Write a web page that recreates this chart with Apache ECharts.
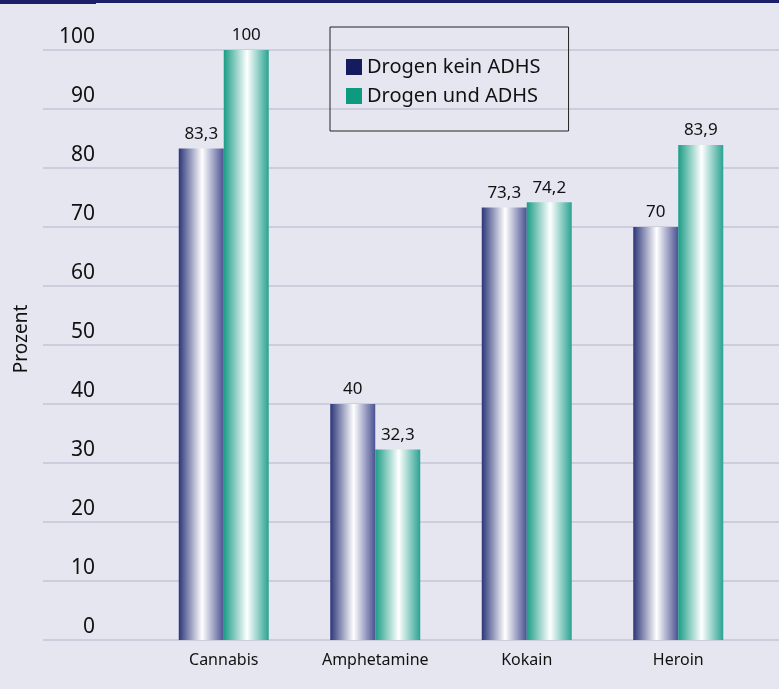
<!DOCTYPE html>
<html><head><meta charset="utf-8">
<script src="https://cdn.jsdelivr.net/npm/echarts@6/dist/echarts.min.js"></script>
<style>html,body{margin:0;padding:0;background:#e6e6f0;}#c{width:779px;height:689px;}</style>
</head><body><div id="c"></div>
<script>
var categories = ['Cannabis', 'Amphetamine', 'Kokain', 'Heroin'];
var seriesNames = ['Drogen kein ADHS', 'Drogen und ADHS'];
var keinAdhs = [83.3, 40, 73.3, 70];
var undAdhs = [100, 32.3, 74.2, 83.9];
var yTicks = [0, 10, 20, 30, 40, 50, 60, 70, 80, 90, 100];

var FONT = 'Noto Sans';
function grad(c1, c2) {
  return new echarts.graphic.LinearGradient(0, 0, 1, 0, [
    {offset: 0, color: c1}, {offset: 0.52, color: '#ffffff'}, {offset: 1, color: c2}
  ]);
}
var navyGrad = grad('#2c3678', '#4a5191');
var tealGrad = grad('#1b9c86', '#2ba392');
var fmt = function (p) { return String(p.value).replace('.', ','); };

var chart = echarts.init(document.getElementById('c'));
chart.setOption({
  backgroundColor: '#e6e6f0',
  animation: false,
  textStyle: {fontFamily: FONT},
  graphic: [
    {type: 'rect', shape: {x: 0, y: 0, width: 779, height: 3}, style: {fill: '#1b1f6a'}},
    {type: 'rect', shape: {x: 0, y: 0, width: 96, height: 4}, style: {fill: '#1b1f6a'}},
    {type: 'text', x: 22, y: 339, rotation: Math.PI / 2,
     style: {text: 'Prozent', font: '19px "Noto Sans"', fill: '#111', textAlign: 'center', textVerticalAlign: 'middle'}}
  ],
  legend: {
    data: [
      {name: seriesNames[0], itemStyle: {color: '#161a5e'}},
      {name: seriesNames[1], itemStyle: {color: '#0e9a80'}}
    ],
    orient: 'vertical',
    left: 330, top: 27,
    padding: [30, 28, 25, 16],
    itemWidth: 16, itemHeight: 16, itemGap: 9,
    icon: 'rect',
    borderColor: '#222', borderWidth: 1,
    textStyle: {fontSize: 20, color: '#111', fontFamily: FONT, padding: [0, 0, 0, 0]}
  },
  grid: [
    {left: 43, right: 0, top: 50, bottom: 49},
    {left: 148, width: 606, top: 50, bottom: 49}
  ],
  xAxis: [
    {type: 'category', gridIndex: 0, show: false, data: categories},
    {type: 'category', gridIndex: 1, data: categories,
     axisLine: {show: false}, axisTick: {show: false},
     axisLabel: {fontSize: 16, color: '#111', margin: 12, fontFamily: FONT}}
  ],
  yAxis: [
    {type: 'value', gridIndex: 0, min: 0, max: 100, interval: 10,
     axisLine: {show: false}, axisTick: {show: false},
     splitLine: {lineStyle: {color: '#c4c4d8', width: 1.5}},
     axisLabel: {inside: true, align: 'right', margin: 52, verticalAlign: 'bottom',
       padding: [0, 0, 2, 0], fontSize: 21, color: '#111', fontFamily: FONT,
       formatter: function (v) { return yTicks.indexOf(v) >= 0 ? String(v) : ''; }}},
    {type: 'value', gridIndex: 1, min: 0, max: 100, interval: 10, show: false}
  ],
  series: [
    {name: seriesNames[0], type: 'bar', xAxisIndex: 1, yAxisIndex: 1, data: keinAdhs,
     barWidth: 45, barGap: '0%', itemStyle: {color: navyGrad},
     label: {show: true, position: 'top', fontSize: 17, color: '#111', distance: 6, formatter: fmt}},
    {name: seriesNames[1], type: 'bar', xAxisIndex: 1, yAxisIndex: 1, data: undAdhs,
     barWidth: 45, barGap: '0%', itemStyle: {color: tealGrad},
     label: {show: true, position: 'top', fontSize: 17, color: '#111', distance: 6, formatter: fmt}}
  ]
});
</script></body></html>
